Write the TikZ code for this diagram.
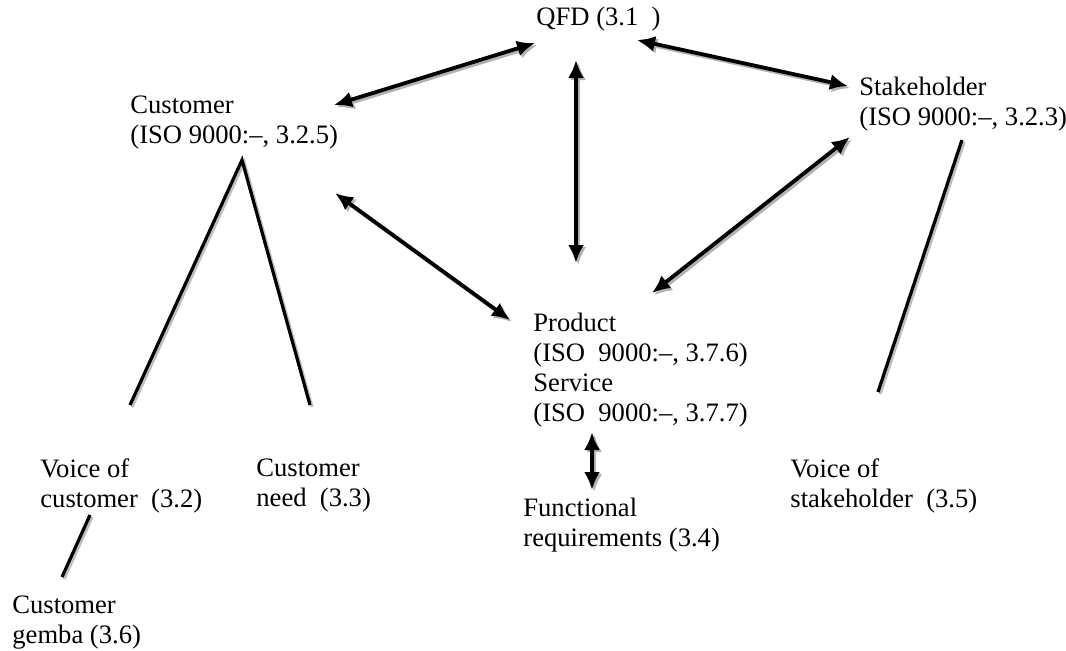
\documentclass[tikz,border=0pt]{standalone}
\usepackage{fontspec}
\setmainfont{Liberation Serif}
\usetikzlibrary{arrows.meta, positioning}

\begin{document}
\begin{tikzpicture}[
    x=0.5pt, y=-0.5pt,
    % styles for the terms and links
    term/.style={anchor=north west, inner sep=0pt, align=left, font=\fontsize{13.3pt}{15pt}\selectfont},
    link/.style={line width=1.9pt, {Latex[length=9pt,width=8pt]}-{Latex[length=9pt,width=8pt]},
        preaction={draw=black!30, line width=1.9pt, transform canvas={shift={(1.1pt,-1.1pt)}}}},
    branch/.style={line width=1.6pt,
        preaction={draw=black!25, line width=1.6pt, transform canvas={shift={(1pt,-1pt)}}}}
]
\useasboundingbox (0,0) rectangle (1066,650);

% terms
\node (qfd) [term] at (536,7) {QFD (3.1~~)};
\node (cust) [term] at (130,95) {Customer\\(ISO 9000:–, 3.2.5)};
\node (stake) [term] at (859,77) {Stakeholder\\(ISO 9000:–, 3.2.3)};
\node (prod) [term] at (533,313) {Product\\(ISO~~9000:–, 3.7.6)\\Service\\(ISO~~9000:–, 3.7.7)};
\node (voc) [term] at (40,458) {Voice of\\customer~~(3.2)};
\node (need) [term] at (256,458) {Customer\\need~~(3.3)};
\node (func) [term] at (523,498) {Functional\\requirements (3.4)};
\node (vos) [term] at (790,458) {Voice of\\stakeholder~~(3.5)};
\node (gemba) [term] at (12,595) {Customer\\gemba (3.6)};

% double arrows
\draw [link] ([shift={(-1,36)}]qfd.north west) -- ([shift={(204,10)}]cust.north west);
\draw [link] ([shift={(101,33)}]qfd.north west) -- ([shift={(-11,9)}]stake.north west);
\draw [link] ([shift={(40,53)}]qfd.north west) -- ([shift={(43,-50)}]prod.north west);
\draw [link] ([shift={(205,98)}]cust.north west) -- ([shift={(-23,7)}]prod.north west);
\draw [link] ([shift={(-9,60)}]stake.north west) -- ([shift={(119,-20)}]prod.north west);
\draw [link] ([shift={(59,119)}]prod.north west) -- ([shift={(69,-8)}]func.north west);

% plain branches
\draw [branch] ([shift={(90,-53)}]voc.north west) -- ([shift={(112,65)}]cust.north west)
    -- ([shift={(54,-53)}]need.north west);
\draw [branch] ([shift={(103,63)}]stake.north west) -- ([shift={(88,-66)}]vos.north west);
\draw [branch] ([shift={(50,57)}]voc.north west) -- ([shift={(50,-18)}]gemba.north west);

\end{tikzpicture}
\end{document}
